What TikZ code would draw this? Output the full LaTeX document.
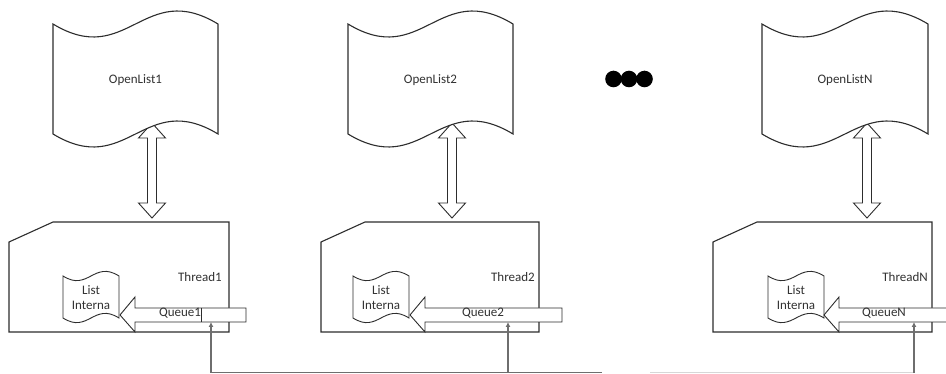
\documentclass[tikz,border=0pt]{standalone}
\usepackage{fontspec}
\setmainfont{Carlito}
\usetikzlibrary{arrows.meta}
\definecolor{linecol}{RGB}{45,45,45}
\definecolor{txtcol}{RGB}{50,50,50}
\definecolor{feedcol}{RGB}{110,110,110}
\definecolor{feedlight}{RGB}{215,215,215}
\tikzset{
  shapeline/.style={draw=linecol, line width=1.1pt, fill=white, line join=miter},
  thinshape/.style={draw=linecol, line width=0.9pt, fill=white},
  lbl/.style={text=txtcol, font=\fontsize{13}{15}\selectfont, inner sep=0pt, align=center},
  feed/.style={draw=feedcol, line width=1.1pt},
  feedarrow/.style={feed, -{Latex[length=5pt,width=5pt]}},
}
\newcommand{\wavebox}[6]{% L T R B d style
  \draw[#6] (#1,#2) .. controls ({#1+0.45*(#3-#1)},{#2+#5}) and ({#1+0.55*(#3-#1)},{#2-#5}) .. (#3,#2)
    -- (#3,#4) .. controls ({#1+0.55*(#3-#1)},{#4-#5}) and ({#1+0.45*(#3-#1)},{#4+#5}) .. (#1,#4) -- cycle;}
\newcommand{\dblarrow}[3]{% x top bottom
  \draw[thinshape] (#1,#2) -- ({#1+13.5},{#2+15}) -- ({#1+4.5},{#2+15}) -- ({#1+4.5},{#3-15})
    -- ({#1+13.5},{#3-15}) -- (#1,#3) -- ({#1-13.5},{#3-15}) -- ({#1-4.5},{#3-15})
    -- ({#1-4.5},{#2+15}) -- ({#1-13.5},{#2+15}) -- cycle;}
\newcommand{\blockarrow}[2]{% tip x, shaft right x
  \draw[thinshape] (#1,315) -- ({#1+15},297) -- ({#1+15},308) -- (#2,308) -- (#2,322)
    -- ({#1+15},322) -- ({#1+15},332) -- cycle;}
\newcommand{\threadbox}[2]{% L R
  \draw[shapeline] (#1,242) -- ({#1+44},222) -- (#2,222) -- (#2,332) -- (#1,332) -- cycle;}
\begin{document}
\begin{tikzpicture}[x=1pt,y=-1pt]
\useasboundingbox (0,0) rectangle (946,374);
\clip (0,0) rectangle (946,374);
\fill[white] (0,0) rectangle (946,374);

% double arrows (drawn first, tips tucked under the lists)
\dblarrow{152}{123}{218}
\dblarrow{452}{123}{218}
\dblarrow{867}{123}{218}

% open lists
\wavebox{53}{24}{218}{134}{45}{shapeline}
\wavebox{348}{24}{513}{134}{45}{shapeline}
\wavebox{762}{24}{928}{134}{45}{shapeline}
\node[lbl] (ol1) at (135.5,80) {OpenList1};
\node[lbl] (ol2) at (430.5,80) {OpenList2};
\node[lbl] (olN) at (845,80) {OpenListN};

% dots
\fill[black] (613.5,79) circle (8.3);
\fill[black] (629,79) circle (8.3);
\fill[black] (644.5,79) circle (8.3);

% thread boxes
\threadbox{9}{229}
\threadbox{321}{539}
\threadbox{713}{932}
\node[lbl, anchor=east] (th1) at (222,277) {Thread1};
\node[lbl, anchor=east] (th2) at (535,277) {Thread2};
\node[lbl, anchor=east] (thN) at (928,277) {ThreadN};

% internal lists
\wavebox{63}{276}{119}{318}{16}{thinshape}
\wavebox{353}{276}{409}{318}{16}{thinshape}
\wavebox{768}{276}{824}{318}{16}{thinshape}
\node[lbl] (li1) at (91,298) {List\\Interna};
\node[lbl] (li2) at (381,298) {List\\Interna};
\node[lbl] (liN) at (796,298) {List\\Interna};

% queue block arrows
\blockarrow{120}{246}
\blockarrow{410}{562}
\blockarrow{824}{960}
\draw[linecol, line width=0.9pt] (201,308) -- (201,322);
\node[lbl] (q1) at (180,313.5) {Queue1};
\node[lbl] (q2) at (483,313.5) {Queue2};
\node[lbl] (qN) at (884,313.5) {QueueN};

% feed lines
\coordinate (f1) at (211,372.5);
\coordinate (f2) at (508,372.5);
\coordinate (fN) at (914,372.5);
\coordinate (g1) at (602,372.5);
\coordinate (g2) at (650,372.5);
\draw[feed] (f1) -- (g1);
\draw[draw=feedlight, line width=1.1pt] (g2) -- (fN);
\draw[feedarrow] (f1) -- (211,322);
\draw[feedarrow] (f2) -- (508,322);
\draw[feedarrow] (fN) -- (914,322);
\end{tikzpicture}
\end{document}
